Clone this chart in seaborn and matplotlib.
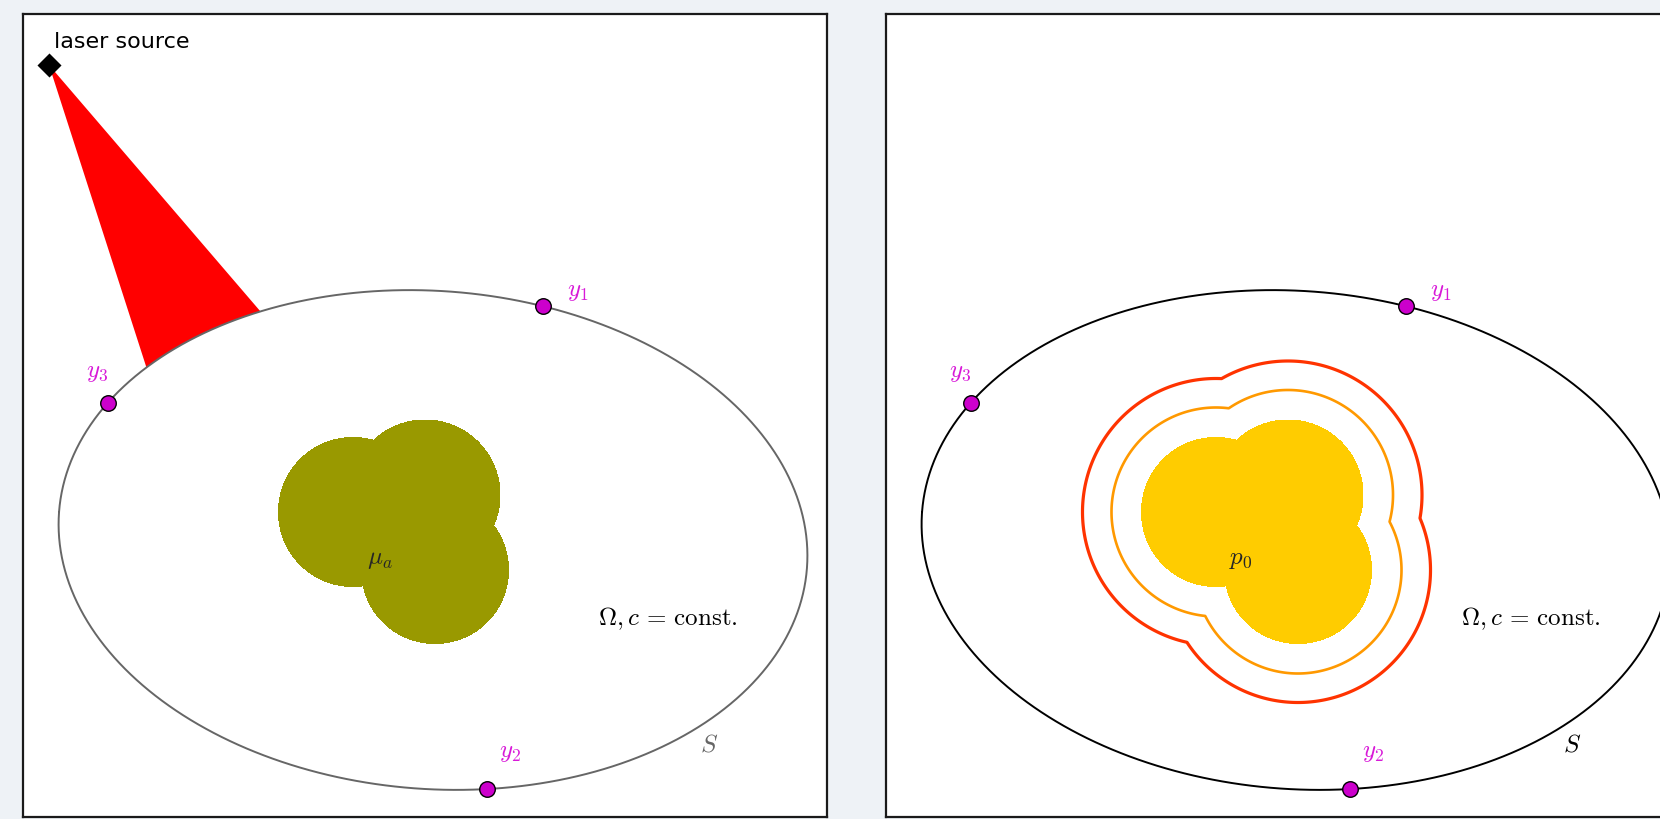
import numpy as np
import pandas as pd
import matplotlib
matplotlib.use("Agg")
import matplotlib.pyplot as plt
import seaborn as sns

# ---- geometry of the domain (panel units = pixels, y pointing down) ----
ellipse_center = (410.0, 526.0)
ellipse_axes = (375.0, 249.0)
ellipse_tilt_deg = 4.3

# absorbing inclusion: union of three discs
blob_cx = [330.0, 402.0, 412.0]
blob_cy = [498.0, 481.0, 556.0]
blob_r = [74.5, 75.0, 73.5]

# outgoing pressure fronts, distance from the inclusion
front_offsets = [30.0, 59.0]

# detectors on the boundary S (ellipse parameter in degrees)
sensor_names = ["$y_1$", "$y_2$", "$y_3$"]
sensor_t = [-75.7, 78.9, -153.2]

# laser source and the edges of its beam on S (ellipse parameter)
laser_xy = (26.0, 51.0)
beam_t = [-142.8, -120.3]

# ---- layout ----
PANEL_W, PANEL_H = 804, 803
label_offsets = [(34, -15), (23, -37), (-11, -31)]
MAGENTA = "#cc00cc"
LABEL_MAGENTA = "#d81ad8"


def ellipse_xy(t_deg):
    t = np.radians(np.asarray(t_deg, dtype=float))
    th = np.radians(ellipse_tilt_deg)
    a, b = ellipse_axes
    ex, ey = a * np.cos(t), b * np.sin(t)
    x = ellipse_center[0] + ex * np.cos(th) - ey * np.sin(th)
    y = ellipse_center[1] + ex * np.sin(th) + ey * np.cos(th)
    return x, y


def blob_distance(X, Y):
    d = np.full(X.shape, np.inf)
    for cx, cy, r in zip(blob_cx, blob_cy, blob_r):
        d = np.minimum(d, np.hypot(X - cx, Y - cy) - r)
    return d


sns.set_style("white")
plt.rcParams["font.family"] = ["DejaVu Sans"]
plt.rcParams["mathtext.fontset"] = "cm"

fig = plt.figure(figsize=(16.6, 8.19), dpi=100)
fig.patch.set_facecolor("#eef2f6")

FW, FH = 1660, 819
ax_left = fig.add_axes([23 / FW, 1 - 817 / FH, PANEL_W / FW, PANEL_H / FH])
ax_right = fig.add_axes([886 / FW, 1 - 817 / FH, PANEL_W / FW, PANEL_H / FH])

tt = np.linspace(-180, 180, 721)
ex_all, ey_all = ellipse_xy(tt)
boundary = pd.DataFrame({"x": ex_all, "y": ey_all, "order": np.arange(len(tt))})

sx, sy = ellipse_xy(sensor_t)
sensors = pd.DataFrame({"x": sx, "y": sy, "name": sensor_names})

gx = np.arange(180, 580, 0.5)
gy = np.arange(320, 750, 0.5)
GX, GY = np.meshgrid(gx, gy)
D = blob_distance(GX, GY)

for ax, mode in [(ax_left, "absorption"), (ax_right, "pressure")]:
    ax.set_facecolor("white")
    edge = "#666666" if mode == "absorption" else "black"

    if mode == "absorption":
        # laser beam hitting the boundary
        bt = np.linspace(beam_t[0], beam_t[1], 60)
        bx, by = ellipse_xy(bt)
        ax.fill(np.r_[laser_xy[0], bx], np.r_[laser_xy[1], by],
                color="#ff0000", lw=0, zorder=2)
        ax.scatter([laser_xy[0]], [laser_xy[1]], marker="D", s=150,
                   color="black", zorder=5, linewidths=0)
        ax.text(31, 34, "laser source", fontsize=16, ha="left",
                va="baseline", color="black")
        ax.contourf(GX, GY, D, levels=[-1000, 0], colors=["#999900"], zorder=3)
        ax.text(357, 545, r"$\mu_a$", fontsize=18, ha="center", va="center",
                zorder=6)
    else:
        ax.contourf(GX, GY, D, levels=[-1000, 0], colors=["#ffcc00"], zorder=3)
        ax.contour(GX, GY, D, levels=front_offsets,
                   colors=["#ff9900", "#ff3300"], linewidths=[1.9, 2.3],
                   zorder=3)
        ax.text(355, 545, r"$p_0$", fontsize=18, ha="center", va="center",
                zorder=6)

    sns.lineplot(data=boundary, x="x", y="y", sort=False, estimator=None,
                 color=edge, lw=1.4, ax=ax, zorder=4)
    sns.scatterplot(data=sensors, x="x", y="y", s=125, color=MAGENTA,
                    edgecolor="black", linewidth=1.0, ax=ax, zorder=6,
                    legend=False)
    for (px, py), name, (dx, dy) in zip(zip(sx, sy), sensor_names, label_offsets):
        ax.text(px + dx, py + dy, name, fontsize=18, color=LABEL_MAGENTA,
                ha="center", va="center", zorder=6)

    ax.text(686, 730, r"$S$", fontsize=18, color=edge, ha="center",
            va="center")
    ax.text(645, 611, r"$\Omega, c \,=\, \mathrm{const.}$", fontsize=18,
            ha="center", va="baseline", color="black")

    ax.set_xlim(0, PANEL_W)
    ax.set_ylim(PANEL_H, 0)
    ax.set_xlabel("")
    ax.set_ylabel("")
    ax.set_xticks([])
    ax.set_yticks([])
    for sp in ax.spines.values():
        sp.set_visible(True)
        sp.set_color("#1a1a1a")
        sp.set_linewidth(1.6)

fig.savefig("out.png", dpi=100, facecolor=fig.get_facecolor())
